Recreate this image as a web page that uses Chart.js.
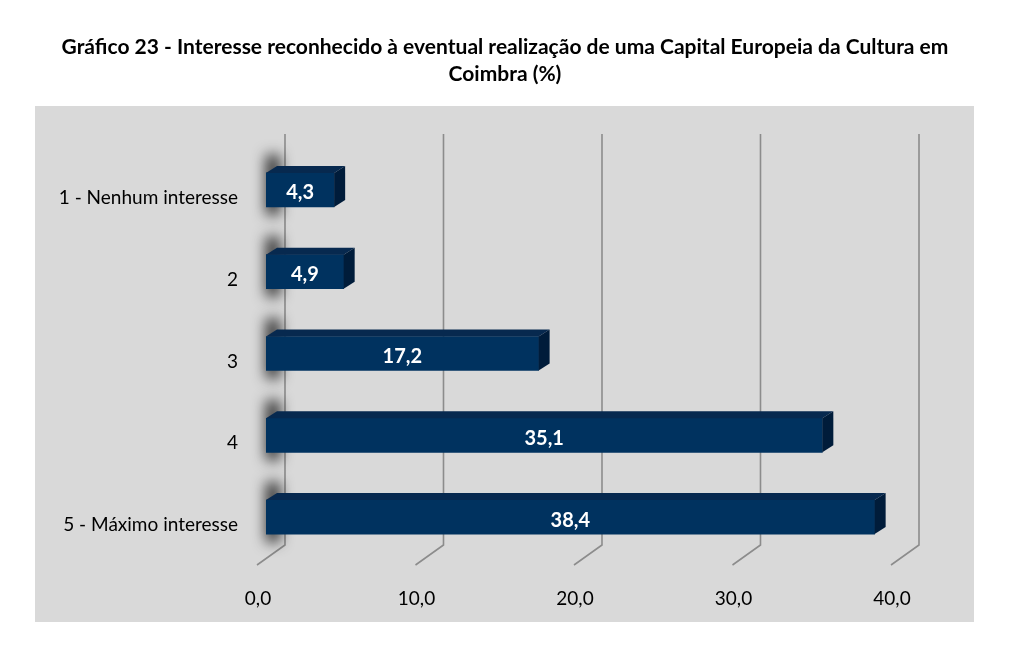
<!DOCTYPE html>
<html><head><meta charset="utf-8">
<script src="https://cdn.jsdelivr.net/npm/chart.js@4"></script>
<style>html,body{margin:0;padding:0;background:#fff;overflow:hidden}</style>
</head><body>
<canvas id="c" width="1024" height="661"></canvas>
<script>
const categories = ['1 - Nenhum interesse', '2', '3', '4', '5 - Máximo interesse'];
const values = [4.3, 4.9, 17.2, 35.1, 38.4];
const xTicks = [0, 10, 20, 30, 40];
const titleLines = ['Gráfico 23 - Interesse reconhecido à eventual realização de uma Capital Europeia da Cultura em', 'Coimbra (%)'];

const fmt = v => Number(v).toFixed(1).replace('.', ',');
const DX = 11, DY = -7;

const threeD = {
  id: 'threeD',
  beforeDraw(chart) {
    const ctx = chart.ctx;
    ctx.save();
    ctx.fillStyle = '#d9d9d9';
    ctx.fillRect(35, 106, 939, 516);
    ctx.restore();
  },
  beforeDatasetsDraw(chart) {
    const ctx = chart.ctx, ca = chart.chartArea, xs = chart.scales.x;
    ctx.save();
    ctx.strokeStyle = '#8c8c8c';
    ctx.lineWidth = 1.6;
    xTicks.forEach(v => {
      const xf = xs.getPixelForValue(v);
      ctx.beginPath();
      ctx.moveTo(xf + 19, ca.top - 15);
      ctx.lineTo(xf + 19, ca.bottom - 13);
      ctx.lineTo(xf - 9, ca.bottom + 7);
      ctx.stroke();
    });
    ctx.restore();
    // shadows
    const meta = chart.getDatasetMeta(0);
    meta.data.forEach(el => {
      const p = el.getProps(['x', 'y', 'base', 'height'], true);
      const left = Math.min(p.base, p.x);
      const top = p.y - p.height / 2, bottom = p.y + p.height / 2;
      ctx.save();
      ctx.shadowColor = 'rgba(0,0,0,0.8)';
      ctx.shadowBlur = 14;
      ctx.shadowOffsetX = 3000;
      ctx.fillStyle = '#000';
      ctx.fillRect(left - 3000, top - 18, 14, bottom - top + 26);
      ctx.restore();
    });
  },
  afterDatasetsDraw(chart) {
    const ctx = chart.ctx;
    const meta = chart.getDatasetMeta(0);
    meta.data.forEach((el, i) => {
      const p = el.getProps(['x', 'y', 'base', 'height'], true);
      const left = Math.min(p.base, p.x), right = Math.max(p.base, p.x);
      const top = p.y - p.height / 2, bottom = p.y + p.height / 2;
      ctx.save();
      ctx.fillStyle = '#07294f';
      ctx.beginPath();
      ctx.moveTo(left, top);
      ctx.lineTo(left + DX, top + DY);
      ctx.lineTo(right + DX, top + DY);
      ctx.lineTo(right, top);
      ctx.closePath();
      ctx.fill();
      ctx.fillStyle = '#001c3a';
      ctx.beginPath();
      ctx.moveTo(right, top);
      ctx.lineTo(right + DX, top + DY);
      ctx.lineTo(right + DX, bottom + DY);
      ctx.lineTo(right, bottom);
      ctx.closePath();
      ctx.fill();
      ctx.fillStyle = '#ffffff';
      ctx.font = 'bold 20px Lato';
      ctx.textAlign = 'center';
      ctx.textBaseline = 'middle';
      ctx.fillText(fmt(values[i]), (left + right) / 2, p.y + 3);
      ctx.restore();
    });
  }
};

new Chart(document.getElementById('c'), {
  type: 'bar',
  data: {
    labels: categories,
    datasets: [{
      data: values,
      backgroundColor: '#00325f',
      borderWidth: 0,
      barThickness: 34
    }]
  },
  options: {
    indexAxis: 'y',
    responsive: false,
    animation: false,
    layout: { padding: { left: 0, right: 14, top: 0, bottom: 0 } },
    plugins: {
      legend: { display: false },
      tooltip: { enabled: false },
      title: {
        display: true,
        text: titleLines,
        color: '#000',
        font: { family: 'Lato', size: 21, weight: 'bold', lineHeight: 27 / 21 },
        padding: { top: 33.5, bottom: 61.5 }
      }
    },
    scales: {
      x: {
        type: 'linear',
        min: 0,
        max: 46.94,
        afterBuildTicks: s => { s.ticks = xTicks.map(v => ({ value: v })); },
        afterFit: s => { s.height = 103; },
        grid: { display: false, drawTicks: false },
        border: { display: false },
        ticks: {
          callback: v => fmt(v),
          labelOffset: -8,
          padding: 29,
          color: '#000',
          font: { family: 'Lato', size: 19 }
        }
      },
      y: {
        type: 'category',
        afterFit: s => { s.width = 266; },
        grid: { display: false, drawTicks: false },
        border: { display: false },
        ticks: {
          padding: 28,
          labelOffset: 8,
          color: '#000',
          font: { family: 'Lato', size: 19 }
        }
      }
    }
  },
  plugins: [threeD]
});
</script>
</body></html>
